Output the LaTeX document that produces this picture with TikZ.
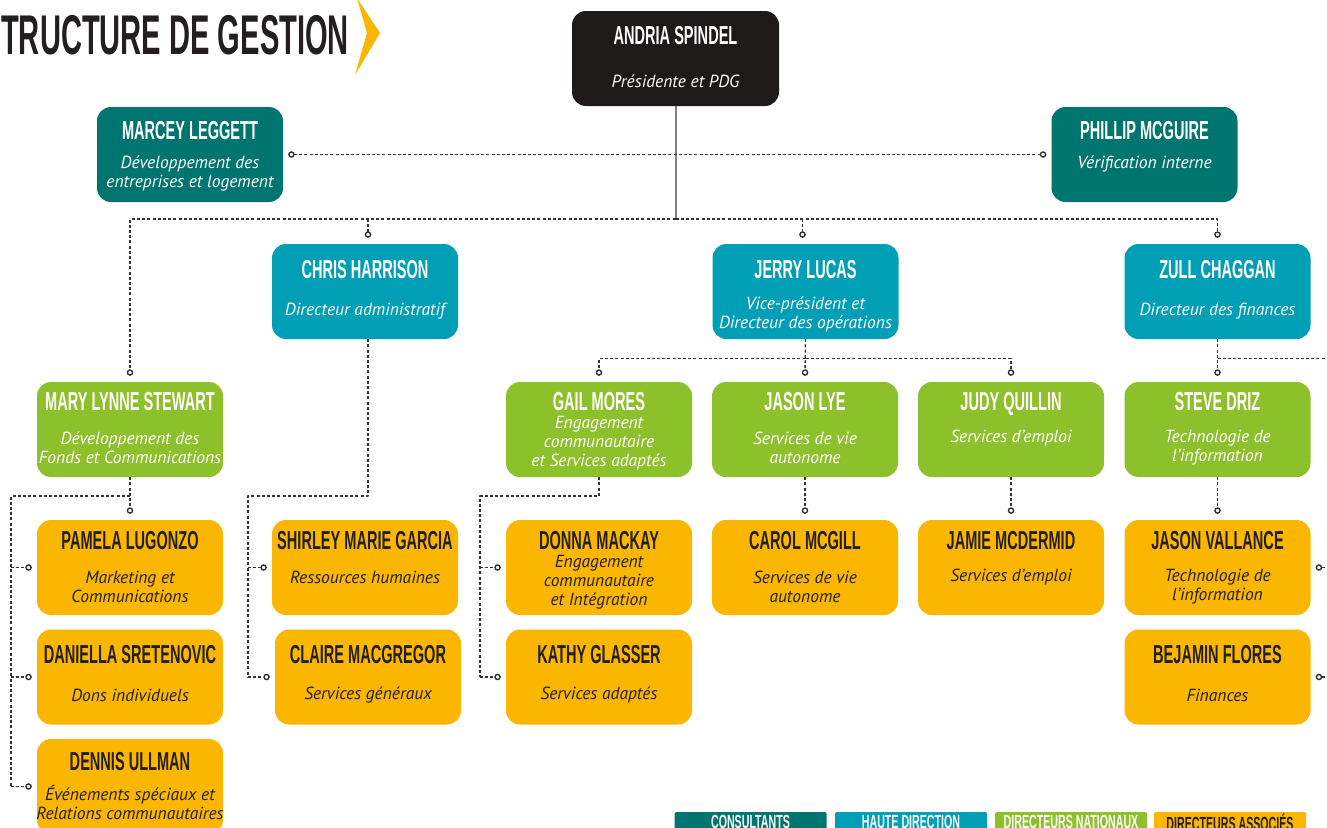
\documentclass[tikz,border=0pt]{standalone}
\usepackage{fontspec}
\setmainfont{PT Sans}
\newfontfamily\namefont{Liberation Sans}[FakeStretch=0.56]
\newfontfamily\titlefont{Liberation Sans}[FakeStretch=0.52]
\usetikzlibrary{arrows.meta,calc}
\definecolor{consultc}{HTML}{00756F}
\definecolor{hautec}{HTML}{009FB5}
\definecolor{natc}{HTML}{8DC12B}
\definecolor{assocc}{HTML}{FBB700}
\definecolor{presc}{HTML}{1E1A1A}
\definecolor{inkc}{HTML}{231F20}
\definecolor{linkc}{HTML}{333333}
\tikzset{ring/.tip={Circle[open,length=6.5pt]}}
% box, name on top, function below
\newcommand{\staff}[7]{%
  \node[#3] (#1) at (#2) {};
  \node[namelbl,#3 txt] (#1-name) at ($(#1.center)+(0,#4)$) {#6};
  \node[desclbl,#3 txt] (#1-desc) at ($(#1.center)+(0,#5)$) {#7};
}

\begin{document}
\begin{tikzpicture}[x=1pt,y=-1pt,line join=round,
  box/.style={rounded corners=14pt,minimum width=186pt,minimum height=95pt,inner sep=0pt},
  pres/.style={box,fill=presc,minimum width=207pt},
  consult/.style={box,fill=consultc},
  haute/.style={box,fill=hautec},
  nat/.style={box,fill=natc},
  assoc/.style={box,fill=assocc},
  pres txt/.style={text=white},
  consult txt/.style={text=white},
  haute txt/.style={text=white},
  nat txt/.style={text=white},
  assoc txt/.style={text=inkc},
  namelbl/.style={inner sep=0pt,text height=19pt,text depth=0pt,
    font=\namefont\bfseries\fontsize{26}{26}\selectfont},
  desclbl/.style={inner sep=0pt,align=center,font=\itshape\fontsize{17.5}{19}\selectfont},
  link/.style={draw=linkc,line width=1.4pt,dash pattern=on 3pt off 2.2pt,line cap=butt},
  legend/.style={minimum width=152pt,minimum height=20pt,inner sep=0pt,rounded corners=1.5pt,
    font=\namefont\bfseries\fontsize{19}{19}\selectfont}]
\useasboundingbox (0,0) rectangle (1327,827);
\clip (0,0) rectangle (1327,827);
\fill[white] (0,0) rectangle (1327,827);

\node[anchor=west,inner sep=0pt,font=\titlefont\bfseries\fontsize{56}{56}\selectfont,text=inkc] (title) at (1,35) {TRUCTURE DE GESTION};
\fill[assocc] (357,-2) -- (380,33) -- (355,75) -- (367,33) -- cycle;

\staff{spindel}{675.5,58.5}{pres}{-23.5}{22.5}{ANDRIA SPINDEL}{Présidente et PDG}
\staff{leggett}{190,154.5}{consult}{-24.5}{19.5}{MARCEY LEGGETT}{Développement des\\entreprises et logement}
\staff{mcguire}{1144.5,154.5}{consult}{-24.5}{9.5}{PHILLIP MCGUIRE}{Vérification interne}
\staff{harrison}{365,291.5}{haute}{-22.5}{19.5}{CHRIS HARRISON}{Directeur administratif}
\staff{lucas}{805.5,291.5}{haute}{-22.5}{23}{JERRY LUCAS}{Vice-président et\\Directeur des opérations}
\staff{chaggan}{1217.5,291.5}{haute}{-22.5}{19.5}{ZULL CHAGGAN}{Directeur des finances}

\staff{stewart}{130,429.5}{nat}{-28.5}{18}{MARY LYNNE STEWART}{Développement des\\Fonds et Communications}
\staff{mores}{599,429.5}{nat}{-28.5}{13.5}{GAIL MORES}{Engagement\\communautaire\\et Services adaptés}
\staff{lye}{805,429.5}{nat}{-28.5}{18}{JASON LYE}{Services de vie\\autonome}
\staff{quillin}{1011,429.5}{nat}{-28.5}{8.5}{JUDY QUILLIN}{Services d’emploi}
\staff{driz}{1217.5,429.5}{nat}{-28.5}{18}{STEVE DRIZ}{Technologie de\\l’information}

\staff{lugonzo}{130,567.5}{assoc}{-27.5}{19}{PAMELA LUGONZO}{Marketing et\\Communications}
\staff{garcia}{365,567.5}{assoc}{-27.5}{9.5}{SHIRLEY MARIE GARCIA}{Ressources humaines}
\staff{mackay}{599,567.5}{assoc}{-27.5}{14.5}{DONNA MACKAY}{Engagement\\communautaire\\et Intégration}
\staff{mcgill}{805,567.5}{assoc}{-27.5}{19}{CAROL MCGILL}{Services de vie\\autonome}
\staff{mcdermid}{1011,567.5}{assoc}{-27.5}{9.5}{JAMIE MCDERMID}{Services d’emploi}
\staff{vallance}{1217.5,567.5}{assoc}{-27.5}{19}{JASON VALLANCE}{Technologie de\\l’information}

\staff{sretenovic}{130,677}{assoc}{-23}{18}{DANIELLA SRETENOVIC}{Dons individuels}
\staff{macgregor}{368,677}{assoc}{-23}{18}{CLAIRE MACGREGOR}{Services généraux}
\staff{glasser}{599,677}{assoc}{-23}{18}{KATHY GLASSER}{Services adaptés}
\staff{flores}{1217.5,677}{assoc}{-23}{18}{BEJAMIN FLORES}{Finances}
\staff{ullman}{130,786.5}{assoc}{-25.5}{16}{DENNIS ULLMAN}{Événements spéciaux et\\Relations communautaires}

% connectors
\coordinate (bus) at (675.5,219);
\coordinate (rim) at (1330,0);
\draw[draw=gray,line width=2pt] (spindel.south) -- (bus);
\draw[link,ring-ring] ([xshift=5pt]leggett.east) -- ([xshift=-5pt]mcguire.west);
\draw[link,-ring] (bus) -| ([yshift=6pt]stewart.north);
\draw[link,-ring] (bus) -| ([yshift=6pt]chaggan.north);
\draw[link,-ring] ([xshift=3pt]harrison.north |- bus) -- ([xshift=3pt,yshift=6pt]harrison.north);
\draw[link,-ring] ([xshift=-3pt]lucas.north |- bus) -- ([xshift=-3pt,yshift=6pt]lucas.north);

\coordinate (lucas-bus) at ($(lucas.south)+(0,19)$);
\draw[link,-ring] (lucas.south) -- ([yshift=6pt]lye.north);
\draw[link,-ring] (lucas-bus) -| ([yshift=6pt]mores.north);
\draw[link,-ring] (lucas-bus) -| ([yshift=6pt]quillin.north);
\draw[link,-ring] (chaggan.south) -- ([yshift=6pt]driz.north);
\draw[link] (chaggan.south |- lucas-bus) -- (rim |- lucas-bus);

\coordinate (stewart-elbow) at (11,496);
\draw[link,-ring] (stewart.south) -- ([yshift=6pt]lugonzo.north);
\draw[link] (stewart.south |- stewart-elbow) -- (stewart-elbow) -- (stewart-elbow |- ullman.west);
\foreach \n in {lugonzo,sretenovic,ullman}
  \draw[link,-ring] (stewart-elbow |- \n.west) -- ([xshift=-5pt]\n.west);

\coordinate (harrison-elbow) at (248,496);
\draw[link] ([xshift=3pt]harrison.south) |- (harrison-elbow) -- (harrison-elbow |- macgregor.west);
\foreach \n in {garcia,macgregor}
  \draw[link,-ring] (harrison-elbow |- \n.west) -- ([xshift=-5pt]\n.west);

\coordinate (mores-elbow) at (480,496);
\draw[link] (mores.south) |- (mores-elbow) -- (mores-elbow |- glasser.west);
\foreach \n in {mackay,glasser}
  \draw[link,-ring] (mores-elbow |- \n.west) -- ([xshift=-5pt]\n.west);

\draw[link,-ring] (lye.south) -- ([yshift=6pt]mcgill.north);
\draw[link,-ring] (quillin.south) -- ([yshift=6pt]mcdermid.north);
\draw[link,-ring] (driz.south) -- ([yshift=6pt]vallance.north);
\foreach \n in {vallance,flores}
  \draw[link,ring-] ([xshift=5pt]\n.east) -- (rim |- \n.east);

% legend
\node[legend,fill=consultc,text=white] (leg-consult) at (750.5,822) {CONSULTANTS};
\node[legend,fill=hautec,text=white] (leg-haute) at (911,822) {HAUTE DIRECTION};
\node[legend,fill=natc,text=white] (leg-nat) at (1071,822) {DIRECTEURS NATIONAUX};
\node[legend,fill=assocc,text=inkc] (leg-assoc) at (1230,822) {DIRECTEURS ASSOCIÉS};
\end{tikzpicture}
\end{document}
